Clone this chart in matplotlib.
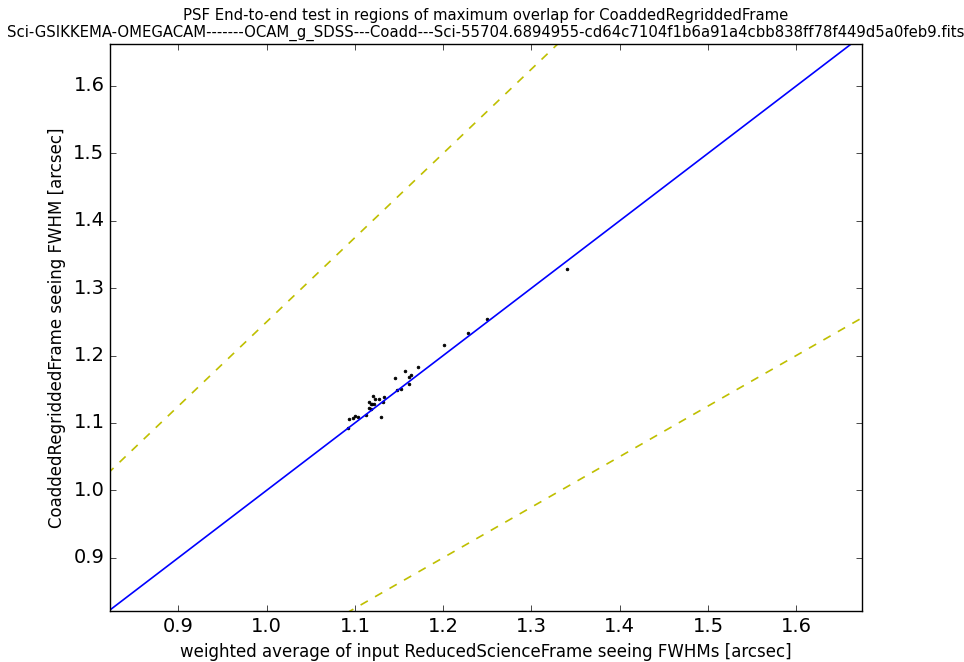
import numpy as np
import matplotlib
matplotlib.use('Agg')
import matplotlib.pyplot as plt

# seeing FWHM per overlap region [arcsec]
input_fwhm = [1.1711, 1.1567, 1.1635, 1.1613, 1.1451, 1.1613, 1.1519, 1.1473,
              1.1205, 1.1270, 1.1224, 1.1333, 1.1163, 1.1197, 1.1220, 1.1179,
              1.1322, 1.1163, 1.1179, 1.1292, 1.1126, 1.1004, 1.1035, 1.0982,
              1.0937, 1.0925, 1.2009, 1.2284, 1.2499, 1.3399]
coadd_fwhm = [1.1825, 1.1770, 1.1715, 1.1685, 1.1671, 1.1573, 1.1503, 1.1484,
              1.1399, 1.1350, 1.1355, 1.1389, 1.1306, 1.1285, 1.1276, 1.1276,
              1.1315, 1.1226, 1.1211, 1.1092, 1.1117, 1.1102, 1.1092, 1.1068,
              1.1058, 1.0920, 1.2156, 1.2338, 1.2542, 1.3288]

x_lim = (0.8225, 1.6745)
y_lim = (0.8209, 1.6622)
tolerance = 0.25

plt.style.use('classic')
fig = plt.figure(figsize=(9.64, 6.62), dpi=100, facecolor='white')
ax = fig.add_axes([0.1141, 0.077, 0.7801, 0.8565])

ax.plot(input_fwhm, coadd_fwhm, 'k.', markersize=4)
xx = np.array([0.5, 2.0])
ax.plot(xx, xx, 'b-', lw=1.2)
ax.plot(xx, xx * (1 + tolerance), 'y--', lw=1.2)
ax.plot(xx, xx * (1 - tolerance), 'y--', lw=1.2)

ax.set_xlim(x_lim)
ax.set_ylim(y_lim)
ax.set_xticks(np.arange(0.9, 1.65, 0.1))
ax.set_yticks(np.arange(0.9, 1.65, 0.1))
ax.tick_params(labelsize=14, direction='in', top=True, right=True)

ax.set_xlabel('weighted average of input ReducedScienceFrame seeing FWHMs [arcsec]', fontsize=12)
ax.set_ylabel('CoaddedRegriddedFrame seeing FWHM [arcsec]', fontsize=12)
ax.set_title('PSF End-to-end test in regions of maximum overlap for CoaddedRegriddedFrame\n'
             'Sci-GSIKKEMA-OMEGACAM-------OCAM_g_SDSS---Coadd---Sci-55704.6894955-'
             'cd64c7104f1b6a91a4cbb838ff78f449d5a0feb9.fits', fontsize=10.7)

fig.savefig('out.png', dpi=100, facecolor='white')
